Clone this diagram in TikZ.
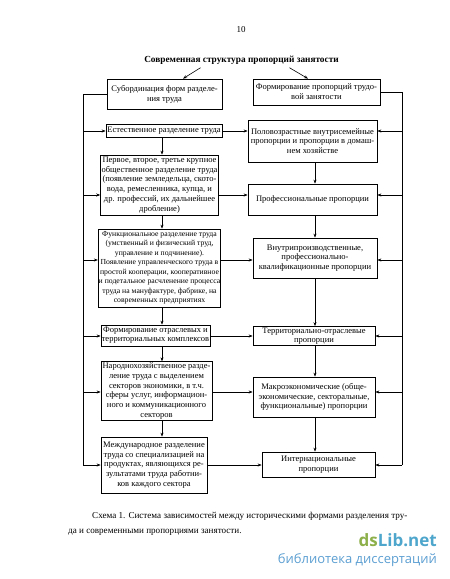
\documentclass[tikz,border=0pt]{standalone}
\usepackage{fontspec}
\setmainfont{Liberation Serif}
\newfontfamily\wmfont{Open Sans}
\usetikzlibrary{arrows.meta}
\definecolor{wmgreen}{HTML}{8DB04A}
\definecolor{wmblue}{HTML}{4FA6CC}
\definecolor{wmlight}{HTML}{5C9FD2}
\begin{document}
\begin{tikzpicture}[x=1pt,y=1pt,
  box/.style={draw,line width=0.7pt,align=center,inner sep=1pt,font=\fontsize{8.5}{9.8}\selectfont},
  small/.style={inner xsep=0.5pt,font=\fontsize{7.7}{9.5}\selectfont},
  tight/.style={inner sep=0.3pt,font=\fontsize{8.5}{9.2}\selectfont},
  arr/.style={line width=0.6pt,-{Stealth[length=4pt,width=3pt]}},
  ln/.style={line width=0.6pt}]
\useasboundingbox (0,0) rectangle (450,-579);
\fill[white] (0,0) rectangle (450,-579);
\node (pg) at (241,-30) {\fontsize{9}{10}\selectfont 10};
\node (T) at (241.5,-60) {\fontsize{9.3}{11}\selectfont\bfseries Современная структура пропорций занятости};
% left column
\node[box,minimum width=115pt,minimum height=30pt] (A) at (164.5,-94) {Субординация форм разделе-\\ния труда};
\node[box,minimum width=116pt,minimum height=13pt] (C) at (164,-131) {Естественное разделение труда};
\node[box,minimum width=117pt,minimum height=60pt] (E) at (159.5,-185) {Первое, второе, третье крупное\\общественное разделение труда\\(появление земледельца, ското-\\вода, ремесленника, купца, и\\др. профессий, их дальнейшее\\дробление)};
\node[box,small,minimum width=117pt,minimum height=78pt] (G) at (159.5,-268) {Функциональное разделение труда\\(умственный и физический труд,\\управление и подчинение).\\Появление управленческого труда в\\простой кооперации, кооперативное\\и подетальное расчленение процесса\\труда на мануфактуре, фабрике, на\\современных предприятиях};
\node[box,tight,minimum width=109pt,minimum height=21pt] (I) at (155.5,-335.5) {Формирование отраслевых и\\территориальных комплексов};
\node[box,minimum width=111pt,minimum height=58pt] (K) at (156.5,-391) {Народнохозяйственное разде-\\ление труда с выделением\\секторов экономики, в т.ч.\\сферы услуг, информацион-\\ного и коммуникационного\\секторов};
\node[box,minimum width=106pt,minimum height=56pt] (M) at (154,-465) {Международное разделение\\труда со специализацией на\\продуктах, являющихся ре-\\зультатами труда работни-\\ков каждого сектора};
% right column
\node[box,minimum width=127pt,minimum height=26pt] (B) at (316.5,-92) {Формирование пропорций трудо-\\вой занятости};
\node[box,minimum width=129pt,minimum height=42pt] (D) at (312.5,-141) {Половозрастные внутрисемейные\\пропорции и пропорции в домаш-\\нем хозяйстве};
\node[box,minimum width=129pt,minimum height=31pt] (F) at (312.5,-199.5) {Профессиональные пропорции};
\node[box,minimum width=124pt,minimum height=40pt] (H) at (315,-258) {Внутрипроизводственные,\\профессионально-\\квалификационные пропорции};
\node[box,tight,minimum width=122pt,minimum height=19pt] (J) at (314,-336) {Территориально-отраслевые\\пропорции};
\node[box,minimum width=122pt,minimum height=40pt] (L) at (314,-397) {Макроэкономические (обще-\\экономические, секторальные,\\функциональные) пропорции};
\node[box,minimum width=113pt,minimum height=25pt] (N) at (318.5,-464.5) {Интернациональные\\пропорции};
% title arrows
\draw[arr] ([xshift=-41pt]T.south) -- ([xshift=18.5pt]A.north);
\draw[arr] ([xshift=48pt]T.south) -- ([xshift=-8.5pt]B.north);
% column coordinates
\coordinate (cl) at (162,0);
\coordinate (cr) at (315,0);
\coordinate (xl) at (83,0);
\coordinate (xr) at (402,0);
\coordinate (r1) at (0,-131);
\coordinate (r2) at (0,-195);
\coordinate (r3) at (0,-260);
\coordinate (r4) at (0,-336);
\coordinate (r5) at (0,-392);
\coordinate (r6) at (0,-465);
% vertical arrows
\draw[arr] (C.south -| cl) -- (E.north -| cl);
\draw[arr] (E.south -| cl) -- (G.north -| cl);
\draw[arr] (G.south -| cl) -- (I.north -| cl);
\draw[arr] (I.south -| cl) -- (K.north -| cl);
\draw[arr] (K.south -| cl) -- (M.north -| cl);
\draw[arr] (D.south -| cr) -- (F.north -| cr);
\draw[arr] (F.south -| cr) -- (H.north -| cr);
\draw[arr] (H.south -| cr) -- (J.north -| cr);
\draw[arr] (J.south -| cr) -- (L.north -| cr);
\draw[arr] (L.south -| cr) -- (N.north -| cr);
% horizontal arrows
\draw[arr] (C.east |- r1) -- (D.west |- r1);
\draw[arr] (E.east |- r2) -- (F.west |- r2);
\draw[arr] (G.east |- r3) -- (H.west |- r3);
\draw[arr] (I.east |- r4) -- (J.west |- r4);
\draw[arr] (K.east |- r5) -- (L.west |- r5);
\draw[arr] (M.east |- r6) -- (N.west |- r6);
% left feedback
\draw[ln] (A.west) -- (A.west -| xl) -- (xl |- r6);
\draw[arr] (xl |- r1) -- (C.west |- r1);
\draw[arr] (xl |- r2) -- (E.west |- r2);
\draw[arr] (xl |- r3) -- (G.west |- r3);
\draw[arr] (xl |- r4) -- (I.west |- r4);
\draw[arr] (xl |- r5) -- (K.west |- r5);
\draw[arr] (xl |- r6) -- (M.west |- r6);
% right feedback
\draw[ln] (B.east) -- (B.east -| xr) -- (xr |- r6);
\draw[arr] (xr |- r1) -- (D.east |- r1);
\draw[arr] (xr |- r2) -- (F.east |- r2);
\draw[arr] (xr |- r3) -- (H.east |- r3);
\draw[arr] (xr |- r4) -- (J.east |- r4);
\draw[arr] (xr |- r5) -- (L.east |- r5);
\draw[arr] (xr |- r6) -- (N.east |- r6);
% caption
\node[anchor=base west,inner sep=0pt] (cap1) at (92,-518) {\fontsize{9.1}{11}\selectfont Схема 1. Система зависимостей между историческими формами разделения тру-};
\node[anchor=base west,inner sep=0pt] (cap2) at (68,-533) {\fontsize{9.1}{11}\selectfont да и современными пропорциями занятости.};
% watermark
\node[anchor=base east,inner sep=0pt] (wm1) at (437,-546) {\wmfont\fontsize{17}{18}\selectfont\bfseries\textcolor{wmgreen}{ds}\textcolor{wmblue}{Lib.net}};
\node[anchor=base east,inner sep=0pt] (wm2) at (437,-563) {\wmfont\fontsize{13}{14}\selectfont\textcolor{wmlight}{библиотека диссертаций}};
\end{tikzpicture}
\end{document}
